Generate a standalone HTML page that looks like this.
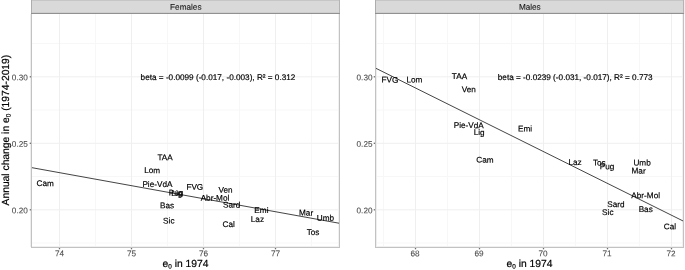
<!DOCTYPE html>
<html><head><meta charset="utf-8"><title>plot</title>
<style>
html,body{margin:0;padding:0;background:#fff;}
svg{display:block;font-family:"Liberation Sans",sans-serif;}
.lb{font-size:8.2px;fill:#000;text-anchor:middle;stroke:#000;stroke-width:0.17px;}
.tk{font-size:8.2px;fill:#4d4d4d;text-anchor:middle;stroke:#4d4d4d;stroke-width:0.1px;}
.st{font-size:8.2px;fill:#1a1a1a;text-anchor:middle;stroke:#1a1a1a;stroke-width:0.12px;}
.ti{font-size:10.3px;fill:#000;text-anchor:middle;stroke:#000;stroke-width:0.2px;}
.sub{font-size:6.39px;}
</style></head><body>
<svg width="685" height="270" viewBox="0 0 685 270">
<rect width="685" height="270" fill="#fff"/>
<rect x="31" y="0" width="309" height="13" fill="#d9d9d9"/>
<rect x="31" y="0" width="309" height="1" fill="#c6c6c6"/>
<rect x="31" y="12" width="309" height="1" fill="#cecece"/>
<line x1="95.5" x2="95.5" y1="14" y2="247" stroke="#f7f7f7" stroke-width="1"/>
<line x1="167.5" x2="167.5" y1="14" y2="247" stroke="#f7f7f7" stroke-width="1"/>
<line x1="239.5" x2="239.5" y1="14" y2="247" stroke="#f7f7f7" stroke-width="1"/>
<line x1="311.5" x2="311.5" y1="14" y2="247" stroke="#f7f7f7" stroke-width="1"/>
<line x1="32" x2="339" y1="43.55" y2="43.55" stroke="#f7f7f7" stroke-width="1"/>
<line x1="32" x2="339" y1="110.05" y2="110.05" stroke="#f7f7f7" stroke-width="1"/>
<line x1="32" x2="339" y1="176.55" y2="176.55" stroke="#f7f7f7" stroke-width="1"/>
<line x1="32" x2="339" y1="243.05" y2="243.05" stroke="#f7f7f7" stroke-width="1"/>
<line x1="59.5" x2="59.5" y1="14" y2="247" stroke="#efefef" stroke-width="1"/>
<line x1="131.5" x2="131.5" y1="14" y2="247" stroke="#efefef" stroke-width="1"/>
<line x1="203.5" x2="203.5" y1="14" y2="247" stroke="#efefef" stroke-width="1"/>
<line x1="275.5" x2="275.5" y1="14" y2="247" stroke="#efefef" stroke-width="1"/>
<line x1="32" x2="339" y1="76.8" y2="76.8" stroke="#efefef" stroke-width="1"/>
<line x1="32" x2="339" y1="143.3" y2="143.3" stroke="#efefef" stroke-width="1"/>
<line x1="32" x2="339" y1="209.8" y2="209.8" stroke="#efefef" stroke-width="1"/>
<rect x="30" y="14" width="1" height="233" fill="#eeeeee"/>
<rect x="338" y="14" width="1" height="233" fill="#f1f1f1"/>
<rect x="32" y="246" width="307" height="1" fill="#f0f0f0"/>
<line x1="31.5" y1="167.6" x2="339.5" y2="223.3" stroke="#222" stroke-width="0.85"/>
<text class="lb" x="165.1" y="160.24" transform="rotate(0.03 165.1 160.24)">TAA</text>
<text class="lb" x="152.1" y="173.14" transform="rotate(0.03 152.1 173.14)">Lom</text>
<text class="lb" x="157.4" y="186.94" transform="rotate(0.03 157.4 186.94)">Pie-VdA</text>
<text class="lb" x="194.8" y="189.74" transform="rotate(0.03 194.8 189.74)">FVG</text>
<text class="lb" x="176.1" y="195.54" transform="rotate(0.03 176.1 195.54)">Pug</text>
<text class="lb" x="176.8" y="196.04" transform="rotate(0.03 176.8 196.04)">Lig</text>
<text class="lb" x="225.5" y="192.74" transform="rotate(0.03 225.5 192.74)">Ven</text>
<text class="lb" x="215" y="200.84" transform="rotate(0.03 215 200.84)">Abr-Mol</text>
<text class="lb" x="231.7" y="207.64" transform="rotate(0.03 231.7 207.64)">Sard</text>
<text class="lb" x="167" y="208.34" transform="rotate(0.03 167 208.34)">Bas</text>
<text class="lb" x="261.4" y="213.04" transform="rotate(0.03 261.4 213.04)">Emi</text>
<text class="lb" x="228.7" y="226.94" transform="rotate(0.03 228.7 226.94)">Cal</text>
<text class="lb" x="257.4" y="221.94" transform="rotate(0.03 257.4 221.94)">Laz</text>
<text class="lb" x="306.1" y="215.64" transform="rotate(0.03 306.1 215.64)">Mar</text>
<text class="lb" x="325.5" y="220.74" transform="rotate(0.03 325.5 220.74)">Umb</text>
<text class="lb" x="313" y="235.04" transform="rotate(0.03 313 235.04)">Tos</text>
<text class="lb" x="168.8" y="223.44" transform="rotate(0.03 168.8 223.44)">Sic</text>
<text class="lb" x="45.25" y="186.14" transform="rotate(0.03 45.25 186.14)">Cam</text>
<text class="lb" x="218" y="79.94" transform="rotate(0.03 218 79.94)">beta = -0.0099 (-0.017, -0.003), R² = 0.312</text>
<rect x="31" y="0" width="1" height="13" fill="#adadad"/>
<rect x="339" y="0" width="1" height="13" fill="#b4b4b4"/>
<rect x="31" y="13" width="309" height="1" fill="#919191"/>
<rect x="31" y="14" width="1" height="234" fill="#c2c2c2"/>
<rect x="339" y="14" width="1" height="234" fill="#c2c2c2"/>
<rect x="31" y="247" width="309" height="1" fill="#c2c2c2"/>
<rect x="58.85" y="248" width="1.3" height="1.3" fill="#6e6e6e"/>
<text class="tk" x="59.5" y="256.2" transform="rotate(0.03 59.5 256.2)">74</text>
<rect x="130.85" y="248" width="1.3" height="1.3" fill="#6e6e6e"/>
<text class="tk" x="131.5" y="256.2" transform="rotate(0.03 131.5 256.2)">75</text>
<rect x="202.85" y="248" width="1.3" height="1.3" fill="#6e6e6e"/>
<text class="tk" x="203.5" y="256.2" transform="rotate(0.03 203.5 256.2)">76</text>
<rect x="274.85" y="248" width="1.3" height="1.3" fill="#6e6e6e"/>
<text class="tk" x="275.5" y="256.2" transform="rotate(0.03 275.5 256.2)">77</text>
<rect x="29.7" y="76.14999999999999" width="1.3" height="1.3" fill="#6e6e6e"/>
<text class="tk" style="text-anchor:end" x="27.8" y="80.19" transform="rotate(0.03 28 80.19)">0.30</text>
<rect x="29.7" y="142.65" width="1.3" height="1.3" fill="#6e6e6e"/>
<text class="tk" style="text-anchor:end" x="27.8" y="146.69" transform="rotate(0.03 28 146.69)">0.25</text>
<rect x="29.7" y="209.15" width="1.3" height="1.3" fill="#6e6e6e"/>
<text class="tk" style="text-anchor:end" x="27.8" y="213.19" transform="rotate(0.03 28 213.19)">0.20</text>
<text class="st" x="185.8" y="9.8" transform="rotate(0.03 185.5 9.8)">Females</text>
<text class="ti" x="185.5" y="266.9" transform="rotate(0.03 185.5 266.9)">e<tspan class="sub" dy="1.5">0</tspan><tspan dy="-1.5"> in 1974</tspan></text>
<rect x="375" y="0" width="309" height="13" fill="#d9d9d9"/>
<rect x="375" y="0" width="309" height="1" fill="#c6c6c6"/>
<rect x="375" y="12" width="309" height="1" fill="#cecece"/>
<line x1="383.5" x2="383.5" y1="14" y2="247" stroke="#f7f7f7" stroke-width="1"/>
<line x1="447.5" x2="447.5" y1="14" y2="247" stroke="#f7f7f7" stroke-width="1"/>
<line x1="511.5" x2="511.5" y1="14" y2="247" stroke="#f7f7f7" stroke-width="1"/>
<line x1="575.5" x2="575.5" y1="14" y2="247" stroke="#f7f7f7" stroke-width="1"/>
<line x1="639.5" x2="639.5" y1="14" y2="247" stroke="#f7f7f7" stroke-width="1"/>
<line x1="376" x2="683" y1="43.55" y2="43.55" stroke="#f7f7f7" stroke-width="1"/>
<line x1="376" x2="683" y1="110.05" y2="110.05" stroke="#f7f7f7" stroke-width="1"/>
<line x1="376" x2="683" y1="176.55" y2="176.55" stroke="#f7f7f7" stroke-width="1"/>
<line x1="376" x2="683" y1="243.05" y2="243.05" stroke="#f7f7f7" stroke-width="1"/>
<line x1="415.5" x2="415.5" y1="14" y2="247" stroke="#efefef" stroke-width="1"/>
<line x1="479.5" x2="479.5" y1="14" y2="247" stroke="#efefef" stroke-width="1"/>
<line x1="543.5" x2="543.5" y1="14" y2="247" stroke="#efefef" stroke-width="1"/>
<line x1="607.5" x2="607.5" y1="14" y2="247" stroke="#efefef" stroke-width="1"/>
<line x1="671.5" x2="671.5" y1="14" y2="247" stroke="#efefef" stroke-width="1"/>
<line x1="376" x2="683" y1="76.8" y2="76.8" stroke="#efefef" stroke-width="1"/>
<line x1="376" x2="683" y1="143.3" y2="143.3" stroke="#efefef" stroke-width="1"/>
<line x1="376" x2="683" y1="209.8" y2="209.8" stroke="#efefef" stroke-width="1"/>
<rect x="376" y="14" width="1" height="233" fill="#eeeeee"/>
<rect x="682" y="14" width="1" height="233" fill="#f1f1f1"/>
<rect x="376" y="246" width="307" height="1" fill="#f0f0f0"/>
<line x1="375.5" y1="68.1" x2="683.5" y2="221.2" stroke="#222" stroke-width="0.85"/>
<text class="lb" x="389.9" y="82.64" transform="rotate(0.03 389.9 82.64)">FVG</text>
<text class="lb" x="414.4" y="82.44" transform="rotate(0.03 414.4 82.44)">Lom</text>
<text class="lb" x="459.5" y="79.14" transform="rotate(0.03 459.5 79.14)">TAA</text>
<text class="lb" x="468.7" y="92.24" transform="rotate(0.03 468.7 92.24)">Ven</text>
<text class="lb" x="468.7" y="128.14" transform="rotate(0.03 468.7 128.14)">Pie-VdA</text>
<text class="lb" x="479.1" y="135.14" transform="rotate(0.03 479.1 135.14)">Lig</text>
<text class="lb" x="525.1" y="131.44" transform="rotate(0.03 525.1 131.44)">Emi</text>
<text class="lb" x="485" y="162.64" transform="rotate(0.03 485 162.64)">Cam</text>
<text class="lb" x="575" y="165.04" transform="rotate(0.03 575 165.04)">Laz</text>
<text class="lb" x="599.3" y="165.54" transform="rotate(0.03 599.3 165.54)">Tos</text>
<text class="lb" x="607.1" y="169.34" transform="rotate(0.03 607.1 169.34)">Pug</text>
<text class="lb" x="642.1" y="165.54" transform="rotate(0.03 642.1 165.54)">Umb</text>
<text class="lb" x="638.6" y="173.64" transform="rotate(0.03 638.6 173.64)">Mar</text>
<text class="lb" x="645.7" y="198.24" transform="rotate(0.03 645.7 198.24)">Abr-Mol</text>
<text class="lb" x="615.9" y="207.14" transform="rotate(0.03 615.9 207.14)">Sard</text>
<text class="lb" x="607.8" y="214.94" transform="rotate(0.03 607.8 214.94)">Sic</text>
<text class="lb" x="645.7" y="211.94" transform="rotate(0.03 645.7 211.94)">Bas</text>
<text class="lb" x="670" y="229.34" transform="rotate(0.03 670 229.34)">Cal</text>
<text class="lb" x="575.2" y="79.94" transform="rotate(0.03 575.2 79.94)">beta = -0.0239 (-0.031, -0.017), R² = 0.773</text>
<rect x="375" y="0" width="1" height="13" fill="#adadad"/>
<rect x="683" y="0" width="1" height="13" fill="#b4b4b4"/>
<rect x="375" y="13" width="309" height="1" fill="#919191"/>
<rect x="375" y="14" width="1" height="234" fill="#c2c2c2"/>
<rect x="684" y="0" width="1" height="14" fill="#eeeeee"/>
<rect x="683" y="14" width="1" height="234" fill="#c2c2c2"/>
<rect x="375" y="247" width="309" height="1" fill="#c2c2c2"/>
<rect x="414.85" y="248" width="1.3" height="1.3" fill="#6e6e6e"/>
<text class="tk" x="415.1" y="256.2" transform="rotate(0.03 415.5 256.2)">68</text>
<rect x="478.85" y="248" width="1.3" height="1.3" fill="#6e6e6e"/>
<text class="tk" x="479.1" y="256.2" transform="rotate(0.03 479.5 256.2)">69</text>
<rect x="542.85" y="248" width="1.3" height="1.3" fill="#6e6e6e"/>
<text class="tk" x="543.1" y="256.2" transform="rotate(0.03 543.5 256.2)">70</text>
<rect x="606.85" y="248" width="1.3" height="1.3" fill="#6e6e6e"/>
<text class="tk" x="607.1" y="256.2" transform="rotate(0.03 607.5 256.2)">71</text>
<rect x="670.85" y="248" width="1.3" height="1.3" fill="#6e6e6e"/>
<text class="tk" x="671.1" y="256.2" transform="rotate(0.03 671.5 256.2)">72</text>
<rect x="373.7" y="76.14999999999999" width="1.3" height="1.3" fill="#6e6e6e"/>
<text class="tk" style="text-anchor:end" x="372.5" y="80.19" transform="rotate(0.03 372 80.19)">0.30</text>
<rect x="373.7" y="142.65" width="1.3" height="1.3" fill="#6e6e6e"/>
<text class="tk" style="text-anchor:end" x="372.5" y="146.69" transform="rotate(0.03 372 146.69)">0.25</text>
<rect x="373.7" y="209.15" width="1.3" height="1.3" fill="#6e6e6e"/>
<text class="tk" style="text-anchor:end" x="372.5" y="213.19" transform="rotate(0.03 372 213.19)">0.20</text>
<text class="st" x="529.8" y="9.8" transform="rotate(0.03 529.5 9.8)">Males</text>
<text class="ti" x="529.5" y="266.9" transform="rotate(0.03 529.5 266.9)">e<tspan class="sub" dy="1.5">0</tspan><tspan dy="-1.5"> in 1974</tspan></text>
<text class="ti" transform="translate(9.0,130.1) rotate(-89.97)" x="0" y="0">Annual change in e<tspan class="sub" dy="1.5">0</tspan><tspan dy="-1.5"> (1974-2019)</tspan></text>
</svg>
</body></html>
